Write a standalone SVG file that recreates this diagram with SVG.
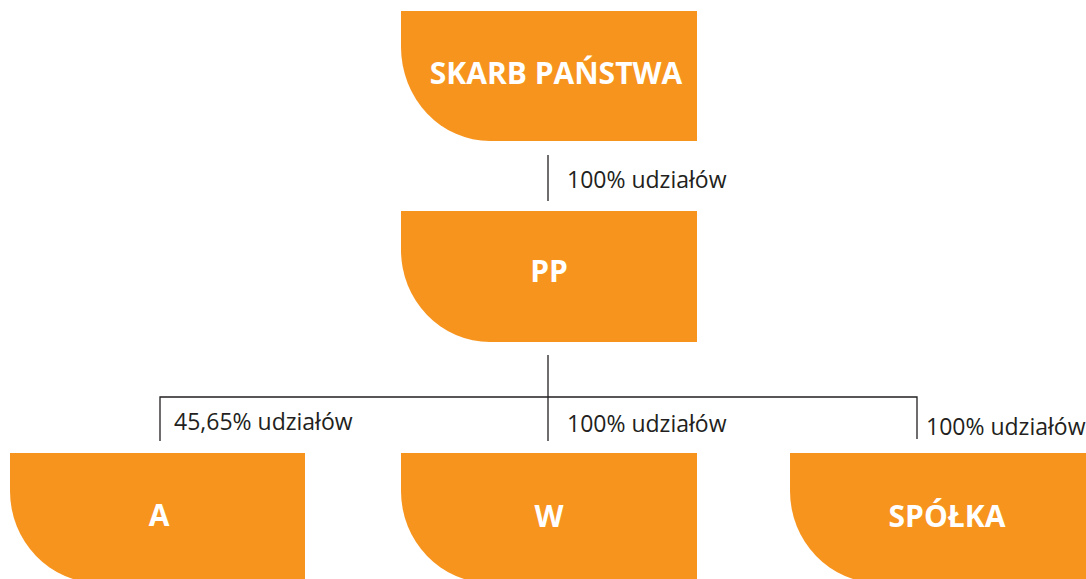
<svg xmlns="http://www.w3.org/2000/svg" width="1086" height="579" viewBox="0 0 1086 579">
  <style>
    .box { fill: #F7941E; }
    .name { font-family: "Open Sans", "Liberation Sans", sans-serif; font-weight: 700; font-size: 30px; fill: #FFFFFF; text-anchor: middle; }
    .share { font-family: "Open Sans", "Liberation Sans", sans-serif; font-size: 23px; fill: #231F20; }
    .link { stroke: #231F20; stroke-width: 1.3; fill: none; }
  </style>

  <!-- ownership lines -->
  <g id="connectors">
    <line class="link" x1="548" y1="155" x2="548" y2="201"/>
    <line class="link" x1="548" y1="355" x2="548" y2="397"/>
    <polyline class="link" points="160,441 160,397 917,397 917,439"/>
    <line class="link" x1="548" y1="397" x2="548" y2="441"/>
    <text class="share" x="567" y="188">100% udziałów</text>
    <text class="share" x="174" y="430">45,65% udziałów</text>
    <text class="share" x="567" y="432">100% udziałów</text>
    <text class="share" x="926" y="435">100% udziałów</text>
  </g>

  <g id="skarb-panstwa">
    <path class="box" d="M401,11 H697 V141 H490 A89,94 0 0 1 401,47 Z"/>
    <text class="name" x="556" y="84">SKARB PAŃSTWA</text>
  </g>

  <g id="pp">
    <path class="box" d="M401,211 H697 V342 H490 A89,92 0 0 1 401,250 Z"/>
    <text class="name" x="549" y="282">PP</text>
  </g>

  <g id="a">
    <path class="box" d="M10,453 H305 V583 H99 A89,92 0 0 1 10,491 Z"/>
    <text class="name" x="159" y="526">A</text>
  </g>

  <g id="w">
    <path class="box" d="M401,453 H697 V583 H490 A89,92 0 0 1 401,491 Z"/>
    <text class="name" x="549" y="527">W</text>
  </g>

  <g id="spolka">
    <path class="box" d="M790,453 H1086 V583 H879 A89,92 0 0 1 790,491 Z"/>
    <text class="name" x="947" y="527">SPÓŁKA</text>
  </g>
</svg>
